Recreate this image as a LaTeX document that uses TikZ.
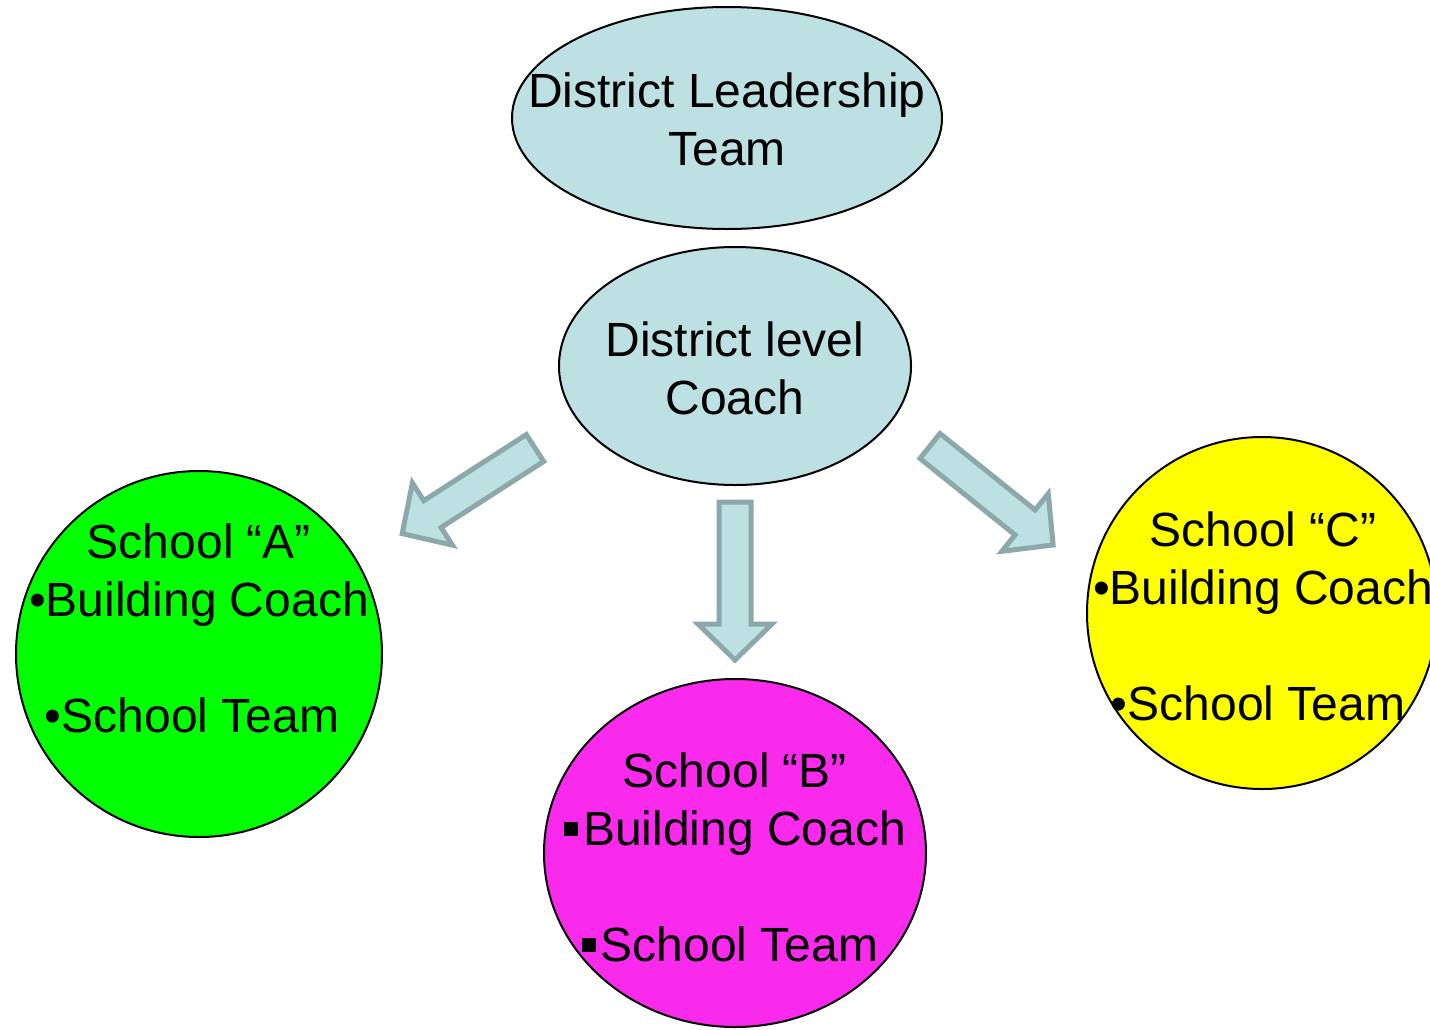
\documentclass[tikz,border=0pt]{standalone}
\usepackage{fontspec}
\setmainfont{Liberation Sans}
\usetikzlibrary{shapes.geometric}
\definecolor{paleblue}{RGB}{189,224,227}
\definecolor{arrowedge}{RGB}{140,168,170}
\definecolor{schoolgreen}{RGB}{0,255,0}
\definecolor{schoolpink}{RGB}{250,42,236}
\definecolor{schoolyellow}{RGB}{255,255,0}
\newcommand{\sqbullet}{\rule[4.5pt]{7pt}{7pt}\hspace{2.5pt}}
\tikzset{
  blob/.style = {draw, ellipse, line width=1pt, inner sep=0pt},
  words/.style = {align=center, font=\fontsize{24}{29}\selectfont, inner sep=0pt},
  fatarrow/.style = {draw=arrowedge, fill=paleblue, line width=2.5pt, line join=miter},
}
\begin{document}
\begin{tikzpicture}[x=0.5pt, y=-0.5pt]
  \useasboundingbox (0,0) rectangle (1430,1029);
  % the bubbles
  \node (lead) [blob, fill=paleblue, minimum width=215pt, minimum height=111pt] at (727,118) {};
  \node (coach) [blob, fill=paleblue, minimum width=176pt, minimum height=119pt] at (735,366) {};
  \node (schoolA) [blob, fill=schoolgreen, minimum width=183pt, minimum height=183pt] at (199,654) {};
  \node (schoolB) [blob, fill=schoolpink, minimum width=191pt, minimum height=174pt] at (735,853) {};
  \node (schoolC) [blob, fill=schoolyellow, minimum width=175pt, minimum height=176pt] at (1262,613) {};
  % texts
  \node (leadtext) [words] at (727,119) {District Leadership\\Team};
  \node (coachtext) [words] at (735,368) {District level\\Coach};
  \node (atext) [words] at (199,628) {School “A”\\•Building Coach\\[29pt]•School Team\hspace*{7pt}};
  \node (btext) [words] at (735,857) {School “B”\\\sqbullet Building Coach\\[29pt]\sqbullet School Team\hspace*{5pt}};
  \node (ctext) [words] at (1263,616) {School “C”\\•Building Coach\\[29pt]•School Team\hspace*{5pt}};
  % block arrows
  \foreach \ax/\ay/\turn in {535/448/-147.2, 735/502/-90, 930/446/-38.8}{
    \draw[fatarrow, shift={(\ax,\ay)}, rotate=\turn]
      (0,-16) -- (122,-16) -- (122,-37) -- (158,0) -- (122,37) -- (122,16) -- (0,16) -- cycle;
  }
\end{tikzpicture}
\end{document}
